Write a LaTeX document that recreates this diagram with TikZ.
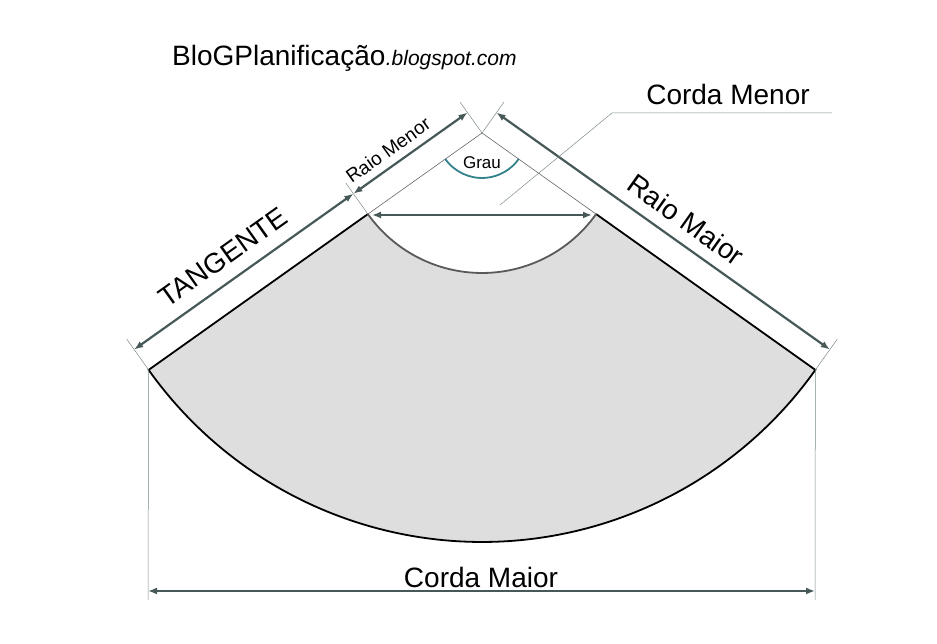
\documentclass[tikz,border=0pt]{standalone}
\usepackage{fontspec}
\setmainfont{Liberation Sans}
\usetikzlibrary{calc,arrows.meta}
\definecolor{dim}{RGB}{70,88,88}
\definecolor{fillg}{RGB}{222,222,222}
\definecolor{teal1}{RGB}{50,130,140}
\tikzset{dimline/.style={dim,line width=2.2pt,{Latex[length=9pt,width=7pt]}-{Latex[length=9pt,width=7pt]}},
ext/.style={dim!70,line width=0.5pt},
lab/.style={font=\fontsize{28}{28}\selectfont}}
\begin{document}
\begin{tikzpicture}[x=1pt,y=1pt]
\useasboundingbox (0,0) rectangle (937,644);
\coordinate (A) at (482,511);
\coordinate (L) at ($(A)+(-144.6:409)$);
\coordinate (R) at ($(A)+(-35.4:409)$);
\coordinate (Li) at ($(A)+(-144.6:140)$);
\coordinate (Ri) at ($(A)+(-35.4:140)$);
\fill[fillg] (L) arc[start angle=-144.6,end angle=-35.4,radius=409] -- (Ri) arc[start angle=-35.4,end angle=-144.6,radius=140] -- cycle;
\draw[black,line width=1.8pt] (Li) -- (L) arc[start angle=-144.6,end angle=-35.4,radius=409] -- (Ri);
\draw[black!65,line width=1.8pt] (Ri) arc[start angle=-35.4,end angle=-144.6,radius=140];
\draw[black!60,line width=0.6pt] (Li) -- (A) -- (Ri);
\coordinate (nl) at (125.4:25);
\coordinate (nle) at (125.4:38);
\coordinate (nr) at (54.6:25);
\coordinate (nre) at (54.6:38);
\foreach \p in {L,Li,A} \draw[ext] (\p) -- ($(\p)+(nle)$);
\foreach \p in {R,A} \draw[ext] (\p) -- ($(\p)+(nre)$);
\draw[dimline] ($(L)+(nl)$) -- ($(Li)+(nl)$);
\draw[dimline] ($(Li)+(nl)$) -- ($(A)+(nl)$);
\draw[dimline] ($(A)+(nr)$) -- ($(R)+(nr)$);
\coordinate (CL) at (148,53);
\coordinate (CR) at (815,53);
\draw[ext] (L) -- (148,44);
\draw[ext] (R) -- (815,44);
\draw[dimline] (CL) -- (CR);
\node[lab] (cm) at (481,67) {Corda Maior};
\coordinate (ml) at (372,429);
\coordinate (mr) at (592,429);
\draw[dimline] (ml) -- (mr);
\coordinate (p1) at (500,439);
\coordinate (p2) at (612,531);
\coordinate (p3) at (832,531);
\draw[ext] (p1) -- (p2) -- (p3);
\node[lab,anchor=base] (cme) at (728,539) {Corda Menor};
\draw[teal1,line width=1.8pt] ($(A)+(-144.6:45)$) arc[start angle=-144.6,end angle=-35.4,radius=45];
\node[font=\fontsize{17}{17}\selectfont] (gr) at (482,481) {Grau};
\node[lab,rotate=35.4] (tg) at (223,387) {TANGENTE};
\node[font=\fontsize{19}{19}\selectfont,rotate=35.4] (rm) at (388,494) {Raio Menor};
\node[lab,rotate=-35.4] (rM) at (686,424) {Raio Maior};
\node[anchor=base west,inner sep=0,font=\fontsize{28}{28}\selectfont] (t1) at (172,578) {BloGPlanificação};
\node[anchor=base west,inner sep=0,font=\fontsize{21}{21}\selectfont\itshape] (t2) at (t1.base east) {.blogspot.com};
\end{tikzpicture}
\end{document}
